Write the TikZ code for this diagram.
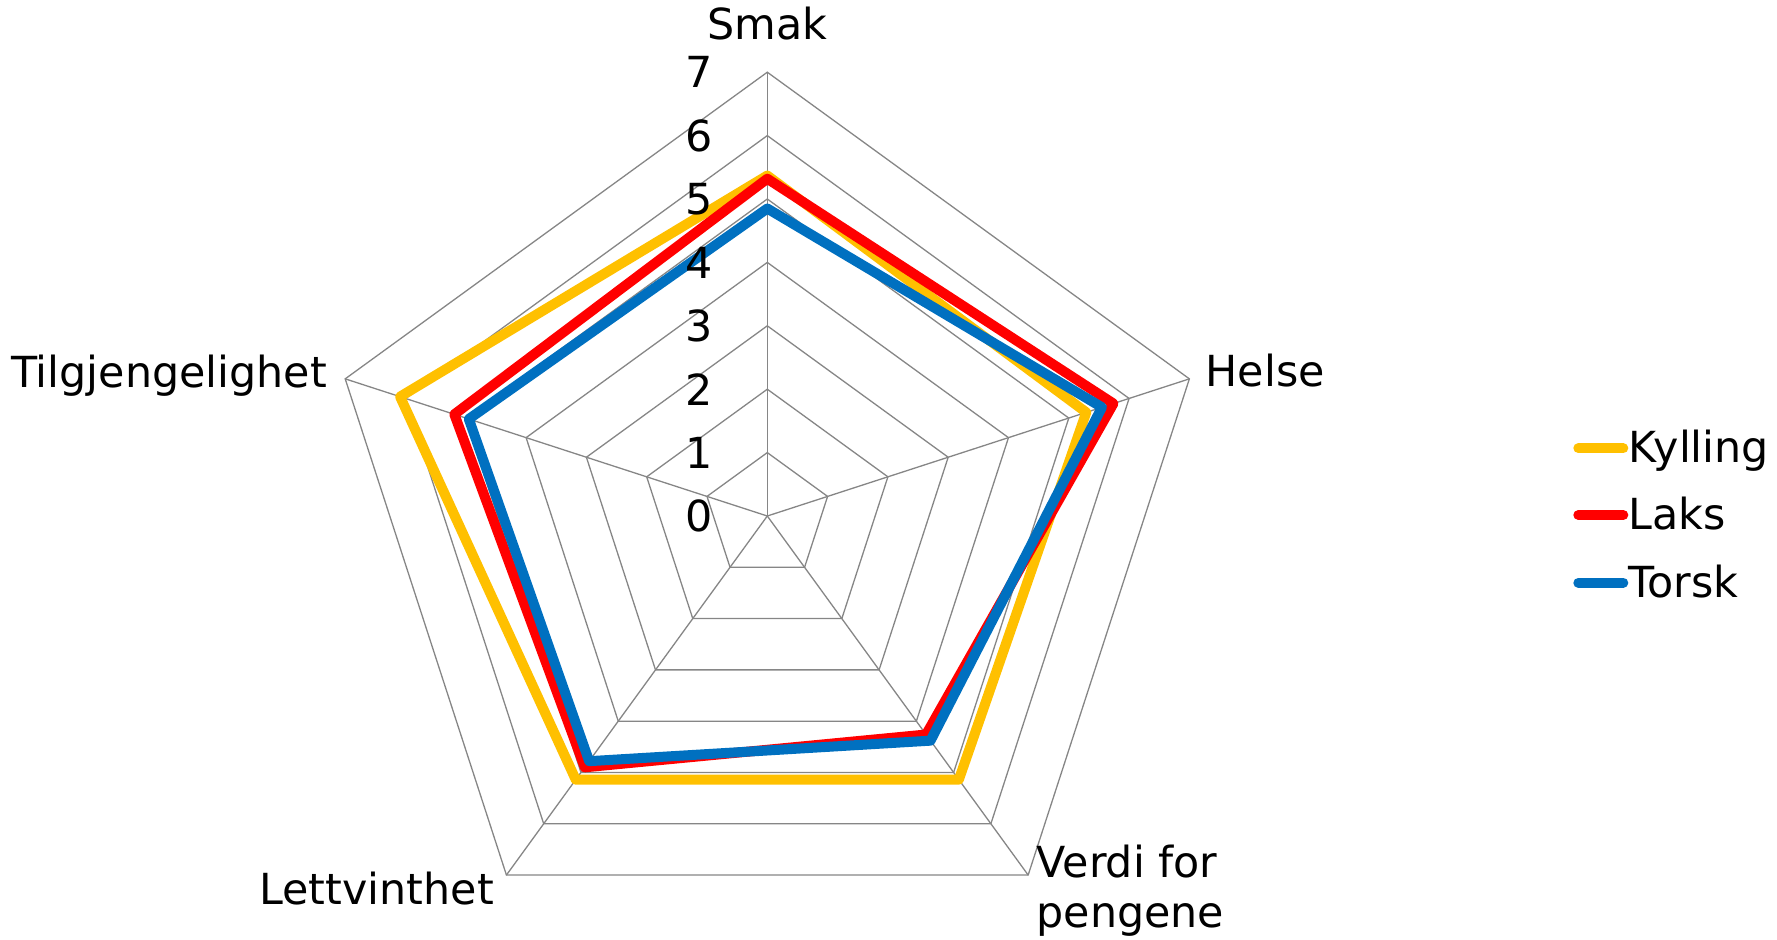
\documentclass[tikz,border=0pt]{standalone}
\usepackage{fontspec}
\setmainfont{DejaVu Sans}

\definecolor{kylling}{HTML}{FFC000}
\definecolor{laks}{HTML}{FF0000}
\definecolor{torsk}{HTML}{0070C0}
\definecolor{gridgray}{HTML}{868686}

\begin{document}
\begin{tikzpicture}[x=0.5pt, y=0.5pt,
  grid line/.style={draw=gridgray, line width=0.65pt},
  series/.style={line width=5pt, line join=round},
  legend line/.style={line width=5pt, line cap=round},
  chart text/.style={font=\fontsize{21.4}{25.3}\selectfont, inner sep=0pt}]
    \useasboundingbox (-767.3,-423) rectangle (1009.7,516);
    % Rings 1 to 7 and the five spokes
    \foreach \r in {1,...,7}
    \draw[grid line] (90:{\r*63.4}) -- (18:{\r*63.4}) -- (-54:{\r*63.4})
      -- (-126:{\r*63.4}) -- (162:{\r*63.4}) -- cycle;
    \foreach \a in {90,18,-54,-126,162}
    \draw[grid line] (0,0) -- (\a:444);
    % One polygon for each fish / meat
    \foreach \col/\sa/\sb/\sc/\sd/\se in {kylling/5.37/5.29/5.14/5.14/6.09,
      laks/5.32/5.74/4.26/4.90/5.19, torsk/4.85/5.55/4.38/4.78/4.95}
    \draw[series, \col] (90:{\sa*63.4}) -- (18:{\sb*63.4}) -- (-54:{\sc*63.4})
      -- (-126:{\sd*63.4}) -- (162:{\se*63.4}) -- cycle;
    % Scale on the Smak axis
    \foreach \v in {0,...,7}
    \node[chart text, anchor=east] (tick\v) at (-54,{\v*63.4}) {\v};
    % Axis names
    \node[chart text, anchor=base] (smak) at (0,476.7) {Smak};
    \node[chart text, anchor=base west] (helse) at (438,129.3) {Helse};
    \node[chart text, anchor=north west, align=left] (verdi) at (269,-328.2) {Verdi for\\pengene};
    \node[chart text, anchor=base east] (lettvinthet) at (-273,-388) {Lettvinthet};
    \node[chart text, anchor=base east] (tilgjengelighet) at (-440,128.3) {Tilgjengelighet};
    % Legend
    \foreach \name/\col/\y in {Kylling/kylling/67.7, Laks/laks/1, Torsk/torsk/-66.7} {
      \node[chart text, anchor=base west] (leg\name) at (861,{\y-14.5}) {\name};
      \draw[legend line, \col] ([shift={(-50,14.5)}]leg\name.base west)
        -- ([shift={(-5,14.5)}]leg\name.base west);
    }
\end{tikzpicture}
\end{document}
